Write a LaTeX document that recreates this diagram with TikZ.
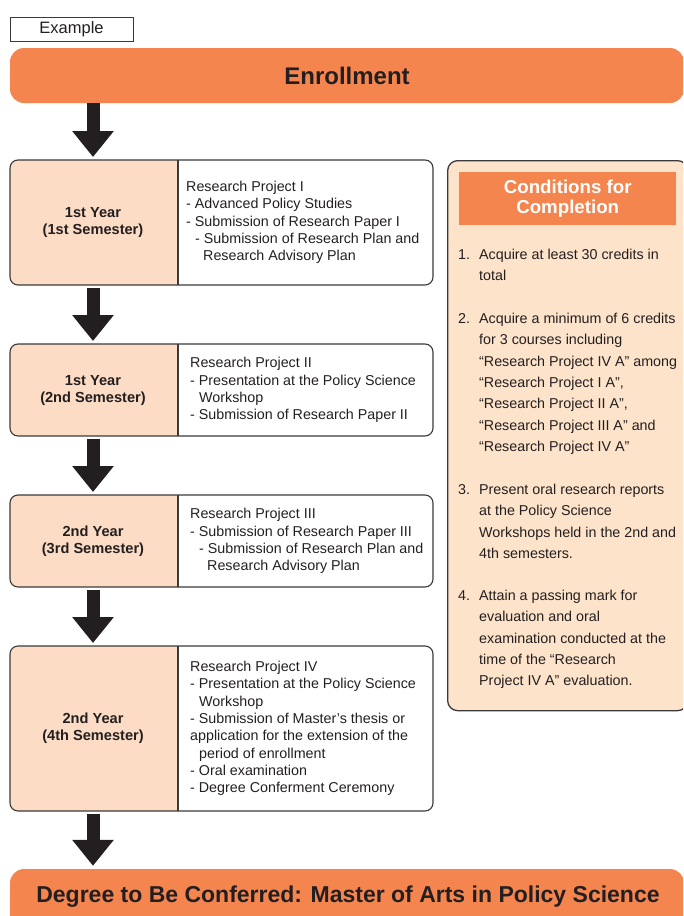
\documentclass[tikz,border=0pt]{standalone}
\usepackage{fontspec}
\setmainfont{Liberation Sans}
\usetikzlibrary{arrows.meta}
\definecolor{orng}{HTML}{F4854F}
\definecolor{peach}{HTML}{FCDCC5}
\definecolor{cream}{HTML}{FDE3CA}
\definecolor{ink}{HTML}{231F20}
\definecolor{edge}{HTML}{3A3A3A}
\tikzset{
  edgeline/.style={draw=edge, line width=1.1pt},
  bodytext/.style={inner sep=0pt, align=left, text=ink, font=\fontsize{14.3}{17.3}\selectfont},
  yearlabel/.style={inner sep=0pt, align=center, text=ink, font=\bfseries\fontsize{14.6}{17}\selectfont},
  condtext/.style={inner sep=0pt, align=left, anchor=north west, text=ink, font=\fontsize{14.3}{21.3}\selectfont},
  banner/.style={fill=orng, rounded corners=14pt, inner sep=0pt, text=ink, font=\bfseries\fontsize{24}{28}\selectfont},
  flow/.style={line width=13pt, draw=ink, -{Triangle[width=40pt,length=26pt]}},
}
\newcommand\stagebox[6]{%
  \node[anchor=north west, minimum width=423pt, minimum height=#3pt, inner sep=0pt, outer sep=0pt] (#1) at (10,#2) {};
  \begin{scope}
    \clip[rounded corners=8pt] (#1.north west) rectangle (#1.south east);
    \fill[peach] (#1.north west) rectangle (178,{#2+#3});
  \end{scope}
  \draw[edgeline] (178,#2) -- (178,{#2+#3});
  \draw[edgeline, rounded corners=8pt] (#1.north west) rectangle (#1.south east);
  \node[yearlabel] (#1l) at (93,{#2+#3/2}) {#4};
  \node[bodytext, anchor=west] (#1t) at (#5,{#2+#3/2}) {#6};
}
\begin{document}
\begin{tikzpicture}[x=1pt,y=-1pt]
\useasboundingbox (0,0) rectangle (683,916);
\clip (0,0) rectangle (683,916);

\node[draw=edge, line width=0.8pt, minimum width=123pt, minimum height=24pt, inner sep=0pt, text=ink, font=\fontsize{16.5}{19}\selectfont] (example) at (71.5,29) {Example};

\node[banner, minimum width=674pt, minimum height=55pt] (enroll) at (347,75.5) {Enrollment};

\stagebox{b1}{160}{125}{1st Year\\(1st Semester)}{186}{Research Project I\\- Advanced Policy Studies\\- Submission of Research Paper I\\\hspace*{9pt}- Submission of Research Plan and\\\hspace*{17pt}Research Advisory Plan}
\stagebox{b2}{344}{92}{1st Year\\(2nd Semester)}{190}{Research Project II\\- Presentation at the Policy Science\\\hspace*{9pt}Workshop\\- Submission of Research Paper II}
\stagebox{b3}{495}{92}{2nd Year\\(3rd Semester)}{190}{Research Project III\\- Submission of Research Paper III\\\hspace*{9pt}- Submission of Research Plan and\\\hspace*{17pt}Research Advisory Plan}
\stagebox{b4}{646}{165}{2nd Year\\(4th Semester)}{190}{Research Project IV\\- Presentation at the Policy Science\\\hspace*{9pt}Workshop\\- Submission of Master’s thesis or\\application for the extension of the\\\hspace*{9pt}period of enrollment\\- Oral examination\\- Degree Conferment Ceremony}

\node[fill=orng, rounded corners=14pt, minimum width=674pt, minimum height=81pt, inner sep=0pt] (degree) at (347,909.5) {};
\node[inner sep=0pt, text=ink, font=\bfseries\fontsize{23}{27}\selectfont] (degreetext) at (348,897) {Degree to Be Conferred: Master of Arts in Policy Science};

\draw[flow] (enroll.south -| b1l) -- ([yshift=3pt]b1.north -| b1l);
\draw[flow, shorten <=3pt, shorten >=3pt] (b1.south -| b1l) -- (b2.north -| b2l);
\draw[flow, shorten <=3pt, shorten >=3pt] (b2.south -| b2l) -- (b3.north -| b3l);
\draw[flow, shorten <=3pt, shorten >=3pt] (b3.south -| b3l) -- (b4.north -| b4l);
\draw[flow, shorten <=3pt, shorten >=3pt] (b4.south -| b4l) -- (degree.north -| b4l);

\node[draw=edge, line width=1.3pt, fill=cream, rounded corners=10pt, anchor=north west, minimum width=240pt, minimum height=550pt, inner sep=0pt] (cond) at (447,160) {};
\node[fill=orng, anchor=north west, minimum width=217pt, minimum height=53pt, inner sep=0pt, align=center, text=white, font=\bfseries\fontsize{18.7}{19.5}\selectfont] (condhead) at (459,172) {Conditions for\\Completion};

\node[condtext] (c1) at (458,249) {\makebox[21pt][l]{1.}Acquire at least 30 credits in\\\hspace*{21pt}total};
\node[condtext] (c2) at (458,313) {\makebox[21pt][l]{2.}Acquire a minimum of 6 credits\\\hspace*{21pt}for 3 courses including\\\hspace*{21pt}“Research Project IV A” among\\\hspace*{21pt}“Research Project I A”,\\\hspace*{21pt}“Research Project II A”,\\\hspace*{21pt}“Research Project III A” and\\\hspace*{21pt}“Research Project IV A”};
\node[condtext] (c3) at (458,484) {\makebox[21pt][l]{3.}Present oral research reports\\\hspace*{21pt}at the Policy Science\\\hspace*{21pt}Workshops held in the 2nd and\\\hspace*{21pt}4th semesters.};
\node[condtext] (c4) at (458,590) {\makebox[21pt][l]{4.}Attain a passing mark for\\\hspace*{21pt}evaluation and oral\\\hspace*{21pt}examination conducted at the\\\hspace*{21pt}time of the “Research\\\hspace*{21pt}Project IV A” evaluation.};
\end{tikzpicture}
\end{document}
